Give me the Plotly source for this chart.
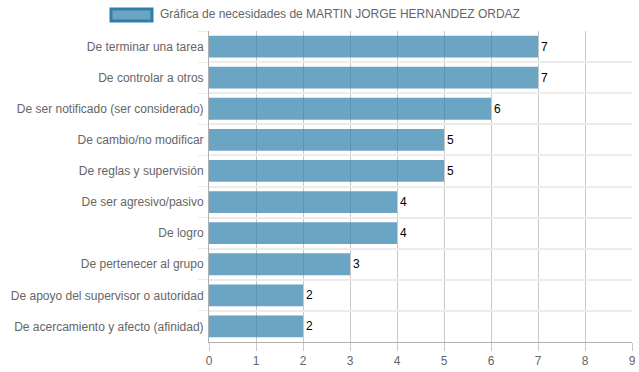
import plotly.graph_objects as go

categories = [
    "De terminar una tarea",
    "De controlar a otros",
    "De ser notificado (ser considerado)",
    "De cambio/no modificar",
    "De reglas y supervisión",
    "De ser agresivo/pasivo",
    "De logro",
    "De pertenecer al grupo",
    "De apoyo del supervisor o autoridad",
    "De acercamiento y afecto (afinidad)",
]
values = [7, 7, 6, 5, 5, 4, 4, 3, 2, 2]
series_name = "Gráfica de necesidades de MARTIN JORGE HERNANDEZ ORDAZ"
x_ticks = list(range(0, 10))

FONT = "Liberation Sans, Arial, sans-serif"

W, H = 639, 372
L, R, T, B = 209, 632, 31, 342  # plot area in window pixels


def px(x):
    return (x - L) / (R - L)


def py(y):
    return (B - y) / (B - T)


fig = go.Figure()
fig.add_trace(go.Bar(
    y=categories,
    x=values,
    orientation="h",
    name=series_name,
    marker=dict(color="rgba(46,126,171,0.7)", line=dict(width=0)),
    text=[str(v) for v in values],
    textposition="outside",
    textfont=dict(color="#000000", size=12, family=FONT),
    cliponaxis=False,
    showlegend=False,
    hoverinfo="skip",
))

fig.update_layout(
    width=W, height=H,
    margin=dict(l=L, r=W - R, t=T, b=H - B, autoexpand=False),
    paper_bgcolor="white",
    plot_bgcolor="white",
    bargap=0.3,
    font=dict(family=FONT, size=12, color="#666666"),
    xaxis=dict(
        range=[0, 9],
        tickvals=x_ticks,
        automargin=False,
        showgrid=True, gridcolor="#c8c8c8", gridwidth=1,
        ticks="outside", ticklen=8, tickcolor="#c8c8c8",
        showline=True, linecolor="#b0b0b0",
        zeroline=False,
        tickfont=dict(size=12, color="#666666"),
        ticklabelstandoff=0,
        fixedrange=True,
    ),
    yaxis=dict(
        type="category",
        autorange="reversed",
        automargin=False,
        tickson="boundaries",
        showgrid=True, gridcolor="#ececec", gridwidth=2,
        ticks="outside", ticklen=10, tickcolor="#ececec",
        showline=True, linecolor="#b0b0b0",
        tickfont=dict(size=12, color="#666666"),
        ticklabelstandoff=2,
        fixedrange=True,
    ),
    shapes=[dict(
        type="rect", xref="paper", yref="paper",
        x0=px(111), x1=px(152),
        y0=py(21), y1=py(9),
        fillcolor="rgba(46,126,171,0.7)",
        line=dict(color="#2f7fab", width=3),
    )],
    annotations=[dict(
        text=series_name, xref="paper", yref="paper",
        x=px(158), y=py(14),
        xanchor="left", yanchor="middle", showarrow=False,
        font=dict(size=12, color="#666666", family=FONT),
    )],
)

fig.write_html(
    "out.html",
    config={"displayModeBar": False},
    post_script="document.body.style.margin='0';document.body.style.overflow='hidden';",
)
